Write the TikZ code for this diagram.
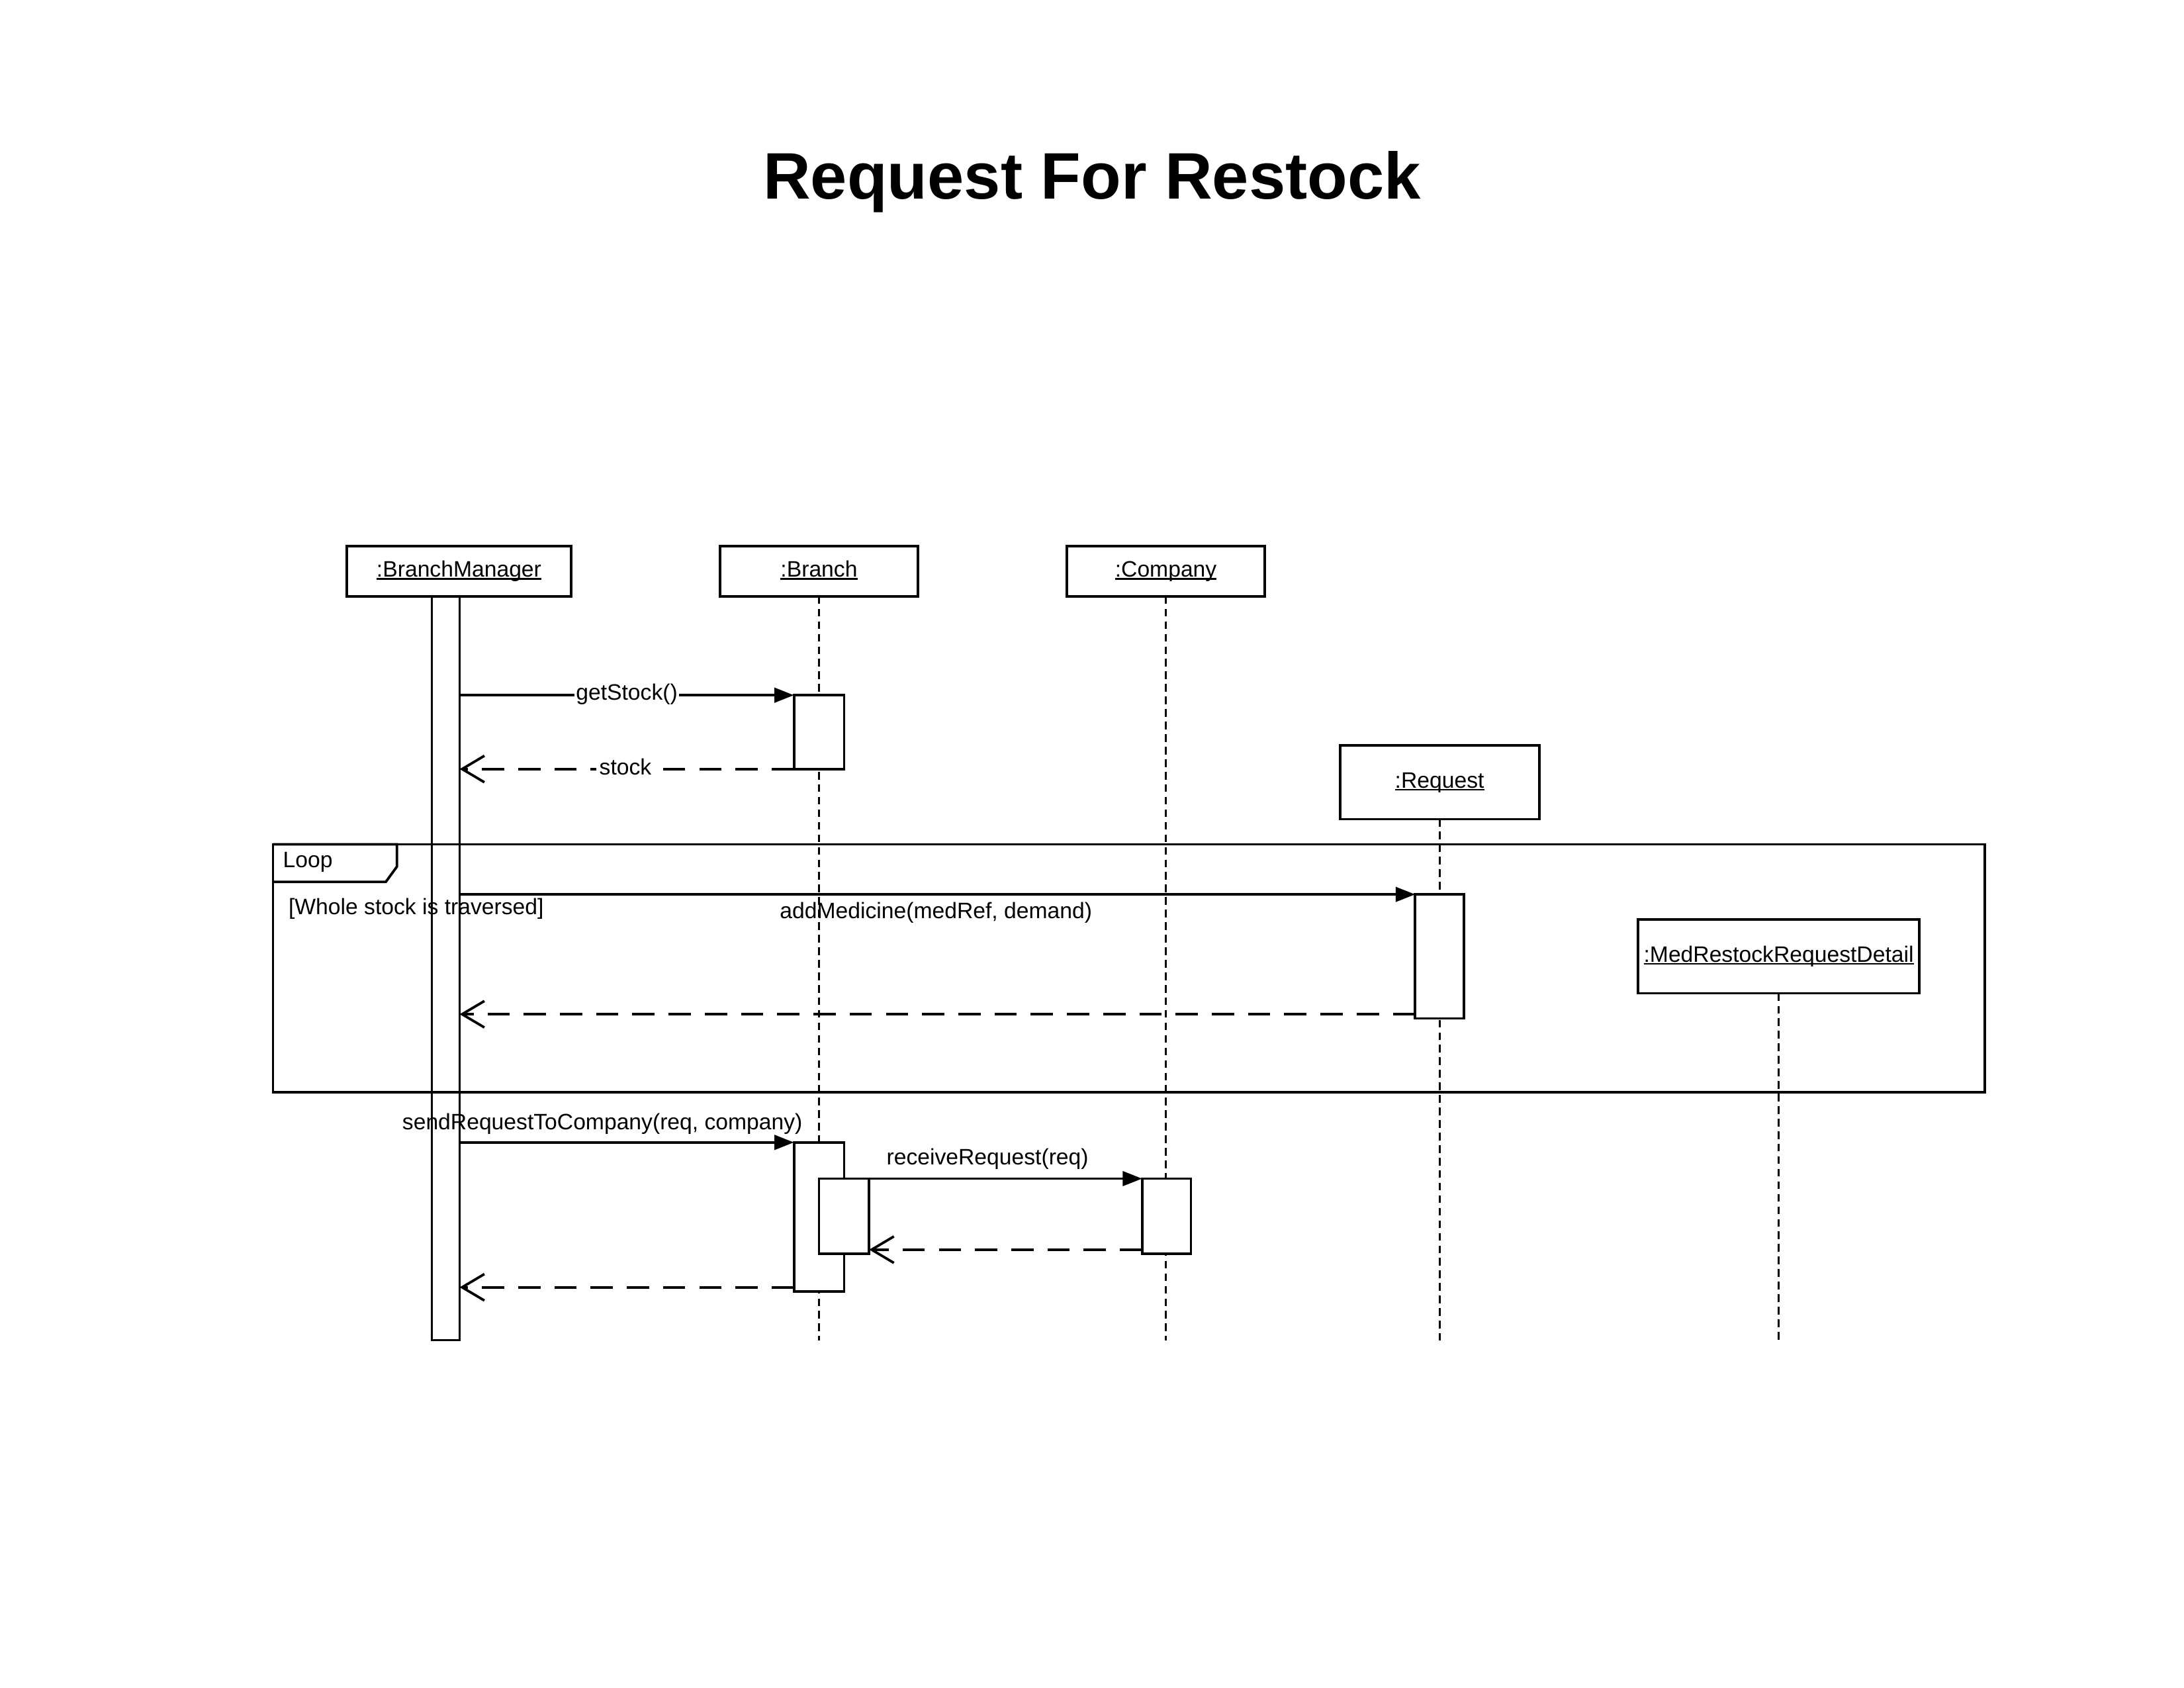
\documentclass[tikz,border=0pt]{standalone}
\usepackage{fontspec}
\setmainfont{Liberation Sans}
\usetikzlibrary{arrows.meta,calc}
\newcommand\myul[1]{{\setbox0\hbox{#1}\rlap{\rule[-2pt]{\wd0}{1.1pt}}\box0}}
\begin{document}
\begin{tikzpicture}[x=1pt,y=-1pt,
  obj/.style={draw,line width=1.8pt,minimum height=36pt,inner sep=0pt,outer sep=0pt,
    font=\fontsize{16}{19}\selectfont,text height=11.5pt,text depth=3.5pt},
  act/.style={draw,fill=white,line width=1.8pt,minimum width=36pt,inner sep=0pt,outer sep=0pt},
  bar/.style={draw,line width=1.6pt,minimum width=20pt,inner sep=0pt,outer sep=0pt},
  life/.style={line width=1.5pt,dash pattern=on 5.5pt off 3.5pt},
  msg/.style={line width=1.8pt,-{Triangle[length=14pt,width=10.5pt]}},
  ret/.style={line width=1.8pt,dash pattern=on 16pt off 10pt,-{Straight Barb[length=16pt,width=19pt]}},
  lbl/.style={font=\fontsize{16}{19}\selectfont,inner sep=1pt,anchor=base},
  frame/.style={draw,line width=1.8pt,inner sep=0pt,outer sep=0pt},
]
\fill[white] (0,0) rectangle (1568,1211.6);
\useasboundingbox (0,0) rectangle (1568,1211.6);

% title
\node[font=\fontsize{47.2}{56}\selectfont\bfseries,anchor=base,inner sep=0pt] (title) at (784,143) {Request For Restock};

% objects
\node[obj,minimum width=161pt] (bm) at (329.5,410) {\myul{:BranchManager}};
\node[obj,minimum width=142pt] (br) at (588,410) {\myul{:Branch}};
\node[obj,minimum width=142pt] (co) at (837,410) {\myul{:Company}};
\node[obj,minimum width=143pt,minimum height=53pt] (rq) at (1033.5,561.5) {\myul{:Request}};
\node[obj,minimum width=202pt,minimum height=53pt] (md) at (1277,686.5) {\myul{:MedRestockRequestDetail}};

% lifeline ends
\coordinate (brEnd) at (588,962);
\coordinate (coEnd) at (837,962);
\coordinate (rqEnd) at (1033.5,962);
\coordinate (mdEnd) at (1277,962);

\draw[life] (br.south) -- (brEnd);
\draw[life] (co.south) -- (coEnd);
\draw[life] (rq.south) -- (rqEnd);
\draw[life] (md.south) -- (mdEnd);

% branch manager activation bar
\node[bar,minimum height=534pt] (bmbar) at (320,695) {};

% loop frame
\node[frame,minimum width=1229pt,minimum height=178pt] (loop) at (810.5,695) {};
\draw[line width=1.8pt] (loop.north west) -- ++(89,0) -- ++(0,16) -- ++(-8,11) -- ++(-81,0);
\node[lbl,anchor=base west] (looplbl) at (202,622.5) {Loop};
\node[lbl,anchor=base west] (guard) at (206,656.5) {[Whole stock is traversed]};

% activations
\node[act,minimum height=53pt] (a1) at (588,525.5) {};
\node[act,minimum height=89pt,minimum width=35pt] (a2) at (1033.5,686.5) {};
\node[act,minimum height=107pt] (a3) at (588,873.5) {};
\node[act,minimum height=54pt] (a4) at (606,873) {};
\node[act,minimum height=54pt,minimum width=35pt] (a5) at (837.5,873) {};

% messages
\draw[msg] (a1.north west -| bmbar.east) -- (a1.north west);
\node[lbl,fill=white] (l1) at (450,502.5) {getStock()};
\draw[ret] (a1.south west) -- (a1.south west -| bmbar.east);
\node[lbl,fill=white,inner xsep=2pt] (l2) at (449,556) {stock};

\draw[msg] (a2.north west -| bmbar.east) -- (a2.north west);
\node[lbl] (l3) at (672,659.5) {addMedicine(medRef, demand)};
\coordinate (r2) at ($(a2.south west)+(0,-3)$);
\draw[ret] (r2) -- (r2 -| bmbar.east);

\draw[msg] (a3.north west -| bmbar.east) -- (a3.north west);
\node[lbl] (l4) at (432.5,811) {sendRequestToCompany(req, company)};
\draw[msg] (a4.north east) -- (a5.north west);
\node[lbl] (l5) at (709,836) {receiveRequest(req)};
\coordinate (r5) at ($(a5.south west)+(0,-3)$);
\draw[ret] (r5) -- (r5 -| a4.east);
\coordinate (r3) at ($(a3.south west)+(0,-3)$);
\draw[ret] (r3) -- (r3 -| bmbar.east);
\end{tikzpicture}
\end{document}
